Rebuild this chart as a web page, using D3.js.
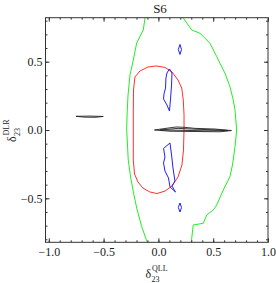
<!DOCTYPE html>
<html>
<head>
<meta charset="utf-8">
<script src="https://cdn.jsdelivr.net/npm/d3@7"></script>
<style>
  body { margin: 0; background: #fff; }
  svg { display: block; }
  text { font-family: "Liberation Serif", "Times New Roman", serif; fill: #1a1a1a; }
</style>
</head>
<body>
<div id="chart"></div>
<script>
// tick labels
var xTicks = [-1.0, -0.5, 0.0, 0.5, 1.0];
var yTicks = [-0.5, 0.0, 0.5];

// contour lines, [x, y] in data units
var greenLeft = [[-0.122, 0.82], [-0.138, 0.732], [-0.198, 0.637], [-0.229, 0.512], [-0.259, 0.403],
    [-0.277, 0.256], [-0.286, 0.110], [-0.289, 0.0], [-0.282, -0.110], [-0.275, -0.220], [-0.255, -0.337],
    [-0.232, -0.439], [-0.198, -0.571], [-0.152, -0.708], [-0.109, -0.805], [-0.099, -0.822]];
var greenRight = [[0.227, 0.82], [0.304, 0.732], [0.380, 0.708], [0.471, 0.635], [0.532, 0.537],
    [0.562, 0.488], [0.608, 0.415], [0.653, 0.317], [0.683, 0.220], [0.699, 0.146], [0.714, 0.0],
    [0.699, -0.122], [0.676, -0.256], [0.653, -0.342], [0.592, -0.439], [0.532, -0.549], [0.501, -0.586],
    [0.441, -0.622], [0.410, -0.683], [0.318, -0.695], [0.304, -0.793], [0.302, -0.822]];
var red = [[-0.022, 0.469], [0.060, 0.458], [0.124, 0.425], [0.179, 0.366], [0.213, 0.307], [0.227, 0.220],
    [0.234, 0.110], [0.234, 0.0], [0.229, -0.146], [0.215, -0.256], [0.179, -0.344], [0.124, -0.410],
    [0.060, -0.447], [-0.013, -0.465], [-0.077, -0.454], [-0.141, -0.425], [-0.186, -0.381], [-0.218, -0.322],
    [-0.229, -0.220], [-0.229, -0.073], [-0.229, 0.146], [-0.227, 0.293], [-0.214, 0.388], [-0.168, 0.432],
    [-0.095, 0.461]];
var blueUpper = [[0.101, 0.447], [0.124, 0.417], [0.120, 0.329], [0.110, 0.220], [0.101, 0.139], [0.078, 0.183],
    [0.047, 0.227], [0.051, 0.264], [0.065, 0.307], [0.069, 0.381], [0.078, 0.417]];
var blueLower = [[0.106, -0.095], [0.120, -0.183], [0.133, -0.278], [0.151, -0.373], [0.124, -0.410],
    [0.156, -0.454], [0.106, -0.417], [0.092, -0.351], [0.060, -0.300], [0.047, -0.242], [0.060, -0.198],
    [0.047, -0.135]];
var blueTop = [[0.197, 0.626], [0.211, 0.589], [0.197, 0.553], [0.182, 0.589]];
var blueBottom = [[0.197, -0.534], [0.211, -0.567], [0.197, -0.600], [0.182, -0.567]];
var blackLeft = [[-0.752, 0.100], [-0.624, 0.102], [-0.503, 0.099], [-0.578, 0.093], [-0.669, 0.094]];
var blackOuter = [[-0.036, 0.0], [0.060, 0.011], [0.161, 0.022], [0.234, 0.020], [0.334, 0.012], [0.516, 0.007],
    [0.667, -0.004], [0.562, -0.013], [0.334, -0.011], [0.106, -0.009]];
var blackInner = [[0.015, 0.0], [0.179, 0.012], [0.334, 0.006], [0.562, 0.0], [0.635, -0.004], [0.425, -0.006],
    [0.197, -0.002]];

var width = 276, height = 283;
var plot = { left: 45.5, right: 268, top: 17.7, bottom: 242.3 };

var svg = d3.select("#chart").append("svg")
    .attr("width", width)
    .attr("height", height);

var x = d3.scaleLinear().domain([-1.03, 1.0]).range([plot.left, plot.right]);
var y = d3.scaleLinear().domain([-0.822, 0.822]).range([plot.bottom, plot.top]);

var minorX = d3.range(-10, 11).map(function (d) { return d / 10; });
var minorY = d3.range(-8, 9).map(function (d) { return d / 10; });
var fmt = d3.format(".1f");

// contours
var openLine = d3.line().x(function (d) { return x(d[0]); }).y(function (d) { return y(d[1]); });
var loopLine = d3.line().x(function (d) { return x(d[0]); }).y(function (d) { return y(d[1]); })
    .curve(d3.curveLinearClosed);

var g = svg.append("g").attr("fill", "none");
function contour(pts, color, sw, isLoop) {
    g.append("path")
        .attr("d", isLoop ? loopLine(pts) : openLine(pts))
        .attr("fill", "none")
        .attr("stroke", color)
        .attr("stroke-width", sw)
        .attr("stroke-linejoin", "round");
}
contour(greenLeft, "#22ee22", 1, false);
contour(greenRight, "#22ee22", 1, false);
contour(red, "#ff3030", 1, true);
[blueUpper, blueLower, blueTop, blueBottom].forEach(function (c) { contour(c, "#2020ff", 1, true); });
[blackLeft, blackOuter, blackInner].forEach(function (c) { contour(c, "#222", 0.9, true); });

// axes, ticks pointing inward on all four sides
function styleAxis(sel) {
    sel.select(".domain").remove();
    sel.selectAll("line").attr("stroke", "#333");
    sel.selectAll("text").attr("font-size", 12).attr("font-family", "Liberation Serif, serif").attr("fill", "#1a1a1a");
}

svg.append("g").attr("transform", "translate(0," + plot.bottom + ")")
    .call(d3.axisBottom(x).tickValues(minorX).tickSize(-2).tickFormat("")).call(styleAxis);
svg.append("g").attr("transform", "translate(0," + plot.bottom + ")")
    .call(d3.axisBottom(x).tickValues(xTicks).tickSize(-4).tickPadding(5).tickFormat(fmt)).call(styleAxis);
svg.append("g").attr("transform", "translate(0," + plot.top + ")")
    .call(d3.axisTop(x).tickValues(minorX).tickSize(-2).tickFormat("")).call(styleAxis);
svg.append("g").attr("transform", "translate(0," + plot.top + ")")
    .call(d3.axisTop(x).tickValues(xTicks).tickSize(-4).tickFormat("")).call(styleAxis);

svg.append("g").attr("transform", "translate(" + plot.left + ",0)")
    .call(d3.axisLeft(y).tickValues(minorY).tickSize(-2).tickFormat("")).call(styleAxis);
svg.append("g").attr("transform", "translate(" + plot.left + ",0)")
    .call(d3.axisLeft(y).tickValues(yTicks).tickSize(-4).tickPadding(3).tickFormat(fmt)).call(styleAxis);
svg.append("g").attr("transform", "translate(" + plot.right + ",0)")
    .call(d3.axisRight(y).tickValues(minorY).tickSize(-2).tickFormat("")).call(styleAxis);
svg.append("g").attr("transform", "translate(" + plot.right + ",0)")
    .call(d3.axisRight(y).tickValues(yTicks).tickSize(-4).tickFormat("")).call(styleAxis);

// frame
svg.append("rect")
    .attr("x", plot.left).attr("y", plot.top)
    .attr("width", plot.right - plot.left).attr("height", plot.bottom - plot.top)
    .attr("fill", "none").attr("stroke", "#333").attr("stroke-width", 1);

// title
svg.append("text").attr("x", 160).attr("y", 13)
    .attr("text-anchor", "middle").attr("font-size", 13).text("S6");

// x label: delta^QLL_23
var xl = svg.append("g").attr("transform", "translate(145.5,277.5)");
xl.append("text").attr("font-size", 12).text("δ");
xl.append("text").attr("x", 6.5).attr("y", -6.5).attr("font-size", 8).text("QLL");
xl.append("text").attr("x", 6).attr("y", 4).attr("font-size", 8).text("23");

// y label: delta^DLR_23, rotated
var yl = svg.append("g").attr("transform", "translate(15.5,142) rotate(-90)");
yl.append("text").attr("font-size", 12).text("δ");
yl.append("text").attr("x", 6.5).attr("y", -6.5).attr("font-size", 8).text("DLR");
yl.append("text").attr("x", 6).attr("y", 4).attr("font-size", 8).text("23");
</script>
</body>
</html>
